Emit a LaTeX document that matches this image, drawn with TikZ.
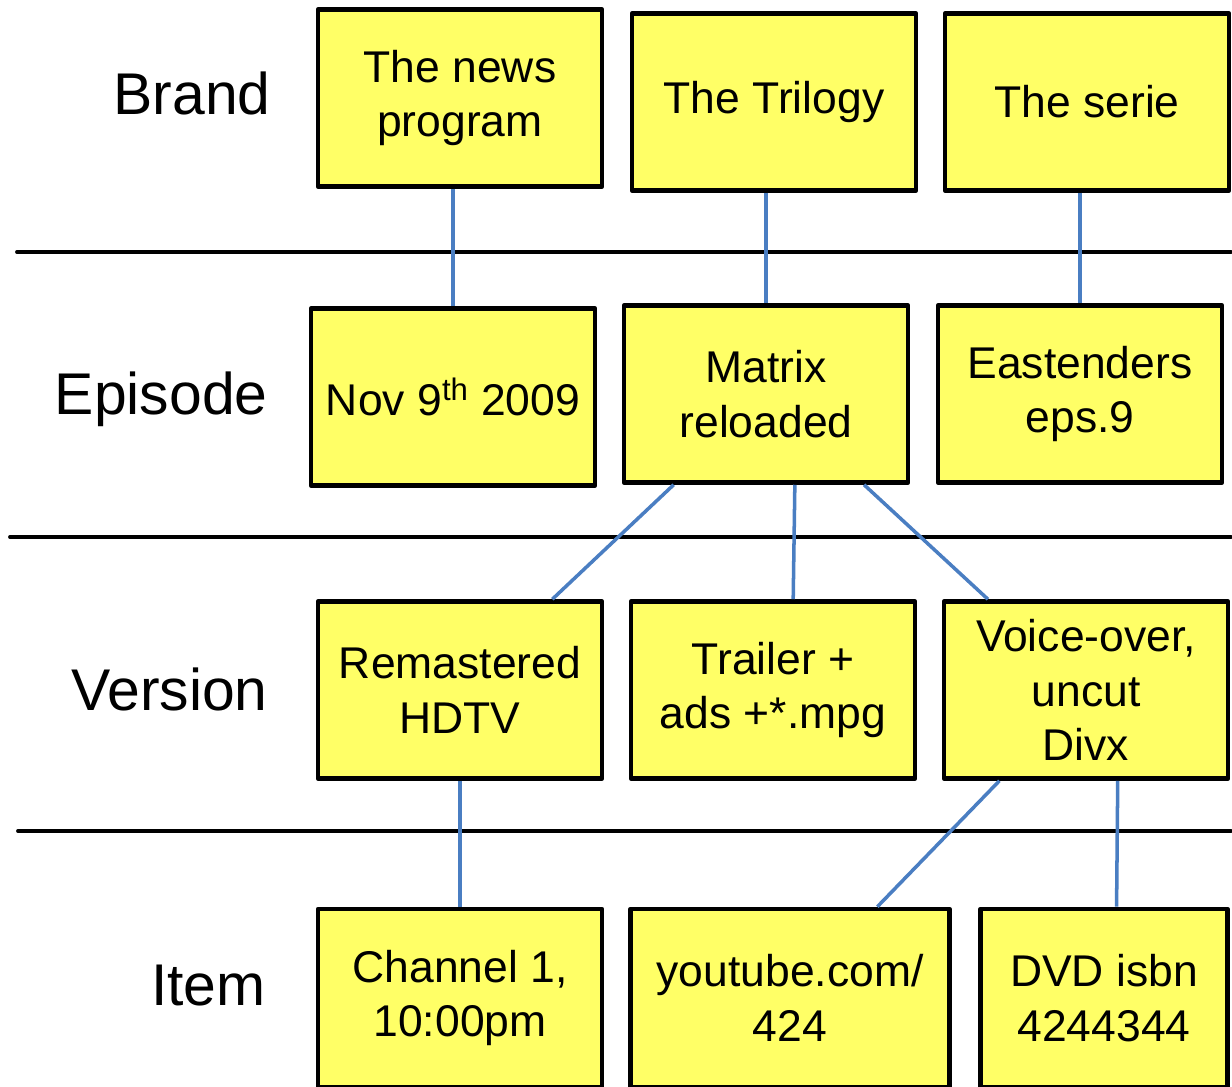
\documentclass[tikz,border=0pt]{standalone}
\usepackage{fontspec}
\setmainfont{Liberation Sans}
\usetikzlibrary{calc}
\definecolor{boxyellow}{HTML}{FFFF66}
\definecolor{linkblue}{HTML}{4A7EC2}

\begin{document}
\begin{tikzpicture} [x=0.02cm, y=-0.02cm,
            level/.style = {anchor=base east, inner sep=0pt,
                font=\fontsize{33.5}{40}\selectfont},
            entity/.style = {draw, line width=2.6pt, line join=round,
                fill=boxyellow, align=center, inner sep=0pt,
                minimum width=5.68cm, minimum height=3.54cm,
                font=\fontsize{25.3}{31.2}\selectfont},
            link/.style = {draw=linkblue, line width=2pt},
            divider/.style = {line width=2.2pt, line cap=round}]

        \useasboundingbox (0,0) rectangle (1232,1087);
        \clip (0,0) rectangle (1232,1087);

        % Level names
        \node (brand)   [level] at (271,115)  {Brand};
        \node (episode) [level] at (268,415)  {Episode};
        \node (version) [level] at (268,711)  {Version};
        \node (item)    [level] at (266,1006) {Item};

        % Dividers
        \draw [divider] (17,252) -- (1231,252);
        \draw [divider] (10,537) -- (1231,537);
        \draw [divider] (18,831) -- (1231,831);

        % Brand row
        \node (news)    [entity] at (460,98)   {The news\\program};
        \node (trilogy) [entity] at (774,102)  {The Trilogy};
        \node (serie)   [entity] at (1087,102) {The serie};

        % Episode row
        \node (nov)     [entity] at (453,397)  {Nov 9\textsuperscript{th} 2009};
        \node (matrix)  [entity] at (766,394)  {Matrix\\reloaded};
        \node (east)    [entity] at (1080,394) {Eastenders\\eps.9};

        % Version row
        \node (remast)  [entity] at (460,690)  {Remastered\\HDTV};
        \node (trailer) [entity] at (773,690)  {Trailer +\\ads +*.mpg};
        \node (voice)   [entity] at (1086,690) {Voice-over,\\uncut\\Divx};

        % Item row
        \node (chan)    [entity, minimum height=3.56cm] at (460,998)
            {Channel 1,\\10:00pm};
        \node (yt)      [entity, minimum width=6.38cm, minimum height=3.56cm]
            at (790,998) {youtube.com/\\424};
        \node (dvd)     [entity, minimum width=4.94cm, minimum height=3.56cm]
            at (1104,998) {DVD isbn\\4244344};

        % Links
        \draw [link] (news.south -| nov.north) -- (nov.north);
        \draw [link] (trilogy.south -| matrix.north) -- (matrix.north);
        \draw [link] (serie.south -| east.north) -- (east.north);

        \draw [link] ($(matrix.south west)!.18!(matrix.south east)$)
            -- ($(remast.north west)!.82!(remast.north east)$);
        \draw [link] ($(matrix.south west)!.6!(matrix.south east)$)
            -- ($(trailer.north west)!.57!(trailer.north east)$);
        \draw [link] ($(matrix.south west)!.84!(matrix.south east)$)
            -- ($(voice.north west)!.16!(voice.north east)$);

        \draw [link] (remast.south) -- (chan.north);
        \draw [link] ($(voice.south west)!.2!(voice.south east)$)
            -- ($(yt.north west)!.77!(yt.north east)$);
        \draw [link] ($(voice.south west)!.61!(voice.south east)$)
            -- ($(dvd.north west)!.55!(dvd.north east)$);
\end{tikzpicture}
\end{document}
